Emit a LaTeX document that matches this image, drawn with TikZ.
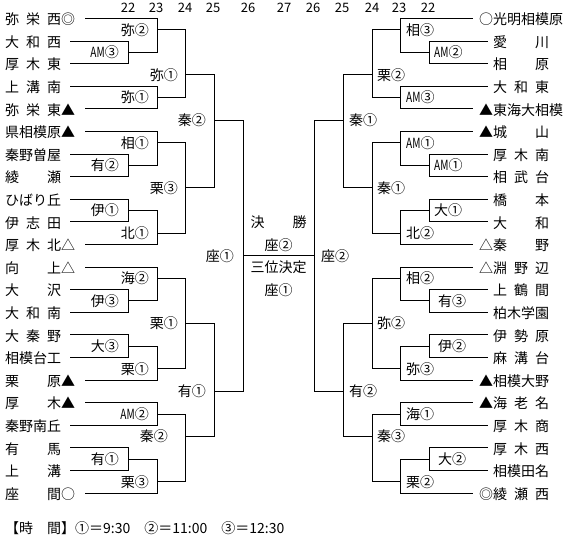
\documentclass[tikz,border=0pt]{standalone}
\usepackage{fontspec}
\setmainfont{Noto Sans CJK JP}
\usepackage{graphicx}
\newcommand\jn[1]{\makebox[56pt][s]{#1}}
\newcommand\AMx{\scalebox{0.72}[1]{AM}}
\newcommand\mt[9]{%
  \draw[ln] (#1,{#2})--(#1,{#3}) (#1,{#4})--(#5,{#4});
  \node[txt,anchor=#7] (#9) at (#6,{#4}) {#8};}
\begin{document}
\begin{tikzpicture}[x=1pt,y=-1pt,
  declare function={rr(\i)=-4.1+22.6*\i; bb(\k)=7.2+22.6*\k;},
  ln/.style={line width=1pt, line cap=rect},
  txt/.style={inner sep=0pt, font=\fontsize{14}{14}\selectfont, text height=11.5pt, text depth=1pt},
  hdr/.style={inner sep=0pt, font=\fontsize{13}{13}\selectfont}]
\fill[white] (0,0) rectangle (568,540);
\useasboundingbox (0,0) rectangle (568,540);

% header
\foreach \x/\n [count=\c] in {128/22,156/23,185/24,213/25,248/26,284/27,313/26,342/25,372/24,399/23,428/22}
  \node[hdr] (h\c) at (\x,8) {\n};

% left team lines
\foreach \i/\a/\b in {1/85/157,2/70/128,3/70/128,4/70/157,5/85/157,6/85/157,7/70/128,8/70/128,9/70/128,10/70/128,11/85/157,
  12/85/157,13/70/128,14/70/128,15/70/128,16/70/128,17/85/157,18/85/157,19/70/157,20/70/128,21/70/128,22/85/157}
  \draw[ln] (\a,{rr(\i)})--(\b,{rr(\i)});
% right team lines
\foreach \i/\a/\b in {1/472/400,2/487/429,3/487/429,4/487/400,5/472/400,6/472/400,7/487/429,8/487/429,9/487/429,10/487/429,11/472/400,
  12/472/400,13/487/429,14/487/429,15/487/429,16/487/429,17/472/400,18/472/400,19/487/400,20/487/429,21/487/429,22/472/400}
  \draw[ln] (\a,{rr(\i)})--(\b,{rr(\i)});

% left team names
\foreach \i/\t in {1/{\jn{弥\hfill{}栄\hfill{}西}◎},2/{\jn{大\hfill{}和\hfill{}西}},3/{\jn{厚\hfill{}木\hfill{}東}},4/{\jn{上\hfill{}溝\hfill{}南}},
  5/{\jn{弥\hfill{}栄\hfill{}東}▲},6/{\jn{県相模原}▲},7/{\jn{秦野曽屋}},8/{\jn{綾\hfill{}瀬}},9/{\jn{ひばり丘}},10/{\jn{伊\hfill{}志\hfill{}田}},
  11/{\jn{厚\hfill{}木\hfill{}北}△},12/{\jn{向\hfill{}上}△},13/{\jn{大\hfill{}沢}},14/{\jn{大\hfill{}和\hfill{}南}},15/{\jn{大\hfill{}秦\hfill{}野}},
  16/{\jn{相模台工}},17/{\jn{栗\hfill{}原}▲},18/{\jn{厚\hfill{}木}▲},19/{\jn{秦野南丘}},20/{\jn{有\hfill{}馬}},21/{\jn{上\hfill{}溝}},22/{\jn{座\hfill{}間}○}}
  \node[txt,anchor=west] (L\i) at (5,{rr(\i)+1}) {\t};
% right team names
\foreach \i/\x/\t in {1/479/{○光明相模原},2/493/{\jn{愛\hfill{}川}},3/493/{\jn{相\hfill{}原}},4/493/{\jn{大\hfill{}和\hfill{}東}},
  5/479/{▲東海大相模},6/479/{▲\jn{城\hfill{}山}},7/493/{\jn{厚\hfill{}木\hfill{}南}},8/493/{\jn{相\hfill{}武\hfill{}台}},9/493/{\jn{橋\hfill{}本}},
  10/493/{\jn{大\hfill{}和}},11/479/{△\jn{秦\hfill{}野}},12/479/{△\jn{淵\hfill{}野\hfill{}辺}},13/493/{\jn{上\hfill{}鶴\hfill{}間}},
  14/493/{\jn{柏木学園}},15/493/{\jn{伊\hfill{}勢\hfill{}原}},16/493/{\jn{麻\hfill{}溝\hfill{}台}},17/479/{▲\jn{相模大野}},
  18/479/{▲\jn{海\hfill{}老\hfill{}名}},19/493/{\jn{厚\hfill{}木\hfill{}商}},20/493/{\jn{厚\hfill{}木\hfill{}西}},21/493/{\jn{相模田名}},
  22/479/{◎\jn{綾\hfill{}瀬\hfill{}西}}}
  \node[txt,anchor=west] (R\i) at (\x,{rr(\i)+1}) {\t};

% ---- left brackets
\mt{128}{rr(2)}{rr(3)}{bb(2)}{157}{119}{east}{\AMx{}③}{la1}
\mt{128}{rr(7)}{rr(8)}{bb(7)}{157}{119}{east}{有②}{la2}
\mt{128}{rr(9)}{rr(10)}{bb(9)}{157}{119}{east}{伊①}{la3}
\mt{128}{rr(13)}{rr(14)}{bb(13)}{157}{119}{east}{伊③}{la4}
\mt{128}{rr(15)}{rr(16)}{bb(15)}{157}{119}{east}{大③}{la5}
\mt{128}{rr(20)}{rr(21)}{bb(20)}{157}{119}{east}{有①}{la6}
\mt{157}{rr(1)}{bb(2)}{bb(1)}{185}{149}{east}{弥②}{lb1}
\mt{157}{rr(4)}{rr(5)}{bb(4)}{185}{149}{east}{弥①}{lb2}
\mt{157}{rr(6)}{bb(7)}{bb(6)}{185}{149}{east}{相①}{lb3}
\mt{157}{bb(9)}{rr(11)}{bb(10)}{185}{149}{east}{北①}{lb4}
\mt{157}{rr(12)}{bb(13)}{bb(12)}{185}{149}{east}{海②}{lb5}
\mt{157}{bb(15)}{rr(17)}{bb(16)}{185}{149}{east}{栗①}{lb6}
\mt{157}{rr(18)}{rr(19)}{bb(18)}{185}{149}{east}{\AMx{}②}{lb7}
\mt{157}{bb(20)}{rr(22)}{bb(21)}{185}{149}{east}{栗③}{lb8}
\mt{185}{bb(1)}{bb(4)}{bb(3)}{214}{178}{east}{弥①}{lc1}
\mt{185}{bb(6)}{bb(10)}{bb(8)}{214}{178}{east}{栗③}{lc2}
\mt{185}{bb(12)}{bb(16)}{bb(14)}{214}{178}{east}{栗①}{lc3}
\mt{185}{bb(18)}{bb(21)}{bb(19)}{214}{168}{east}{秦②}{lc4}
\mt{214}{bb(3)}{bb(8)}{bb(5)}{243}{206}{east}{秦②}{ld1}
\mt{214}{bb(14)}{bb(19)}{bb(17)}{243}{206}{east}{有①}{ld2}
\mt{243}{bb(5)}{bb(17)}{bb(11)}{314}{234}{east}{座①}{le1}

% ---- right brackets
\mt{429}{rr(2)}{rr(3)}{bb(2)}{400}{434}{west}{\AMx{}②}{ra1}
\mt{429}{rr(7)}{rr(8)}{bb(7)}{400}{434}{west}{\AMx{}①}{ra2}
\mt{429}{rr(9)}{rr(10)}{bb(9)}{400}{434}{west}{大①}{ra3}
\mt{429}{rr(13)}{rr(14)}{bb(13)}{400}{438}{west}{有③}{ra4}
\mt{429}{rr(15)}{rr(16)}{bb(15)}{400}{438}{west}{伊②}{ra5}
\mt{429}{rr(20)}{rr(21)}{bb(20)}{400}{438}{west}{大②}{ra6}
\mt{400}{rr(1)}{bb(2)}{bb(1)}{372}{406}{west}{相③}{rb1}
\mt{400}{rr(4)}{rr(5)}{bb(4)}{372}{406}{west}{\AMx{}③}{rb2}
\mt{400}{rr(6)}{bb(7)}{bb(6)}{372}{406}{west}{\AMx{}①}{rb3}
\mt{400}{bb(9)}{rr(11)}{bb(10)}{372}{406}{west}{北②}{rb4}
\mt{400}{rr(12)}{bb(13)}{bb(12)}{372}{406}{west}{相②}{rb5}
\mt{400}{bb(15)}{rr(17)}{bb(16)}{372}{406}{west}{弥③}{rb6}
\mt{400}{rr(18)}{rr(19)}{bb(18)}{372}{406}{west}{海①}{rb7}
\mt{400}{bb(20)}{rr(22)}{bb(21)}{372}{406}{west}{栗②}{rb8}
\mt{372}{bb(1)}{bb(4)}{bb(3)}{343}{377}{west}{栗②}{rc1}
\mt{372}{bb(6)}{bb(10)}{bb(8)}{343}{377}{west}{秦①}{rc2}
\mt{372}{bb(12)}{bb(16)}{bb(14)}{343}{377}{west}{弥②}{rc3}
\mt{372}{bb(18)}{bb(21)}{bb(19)}{343}{377}{west}{秦③}{rc4}
\mt{343}{bb(3)}{bb(8)}{bb(5)}{314}{349}{west}{秦①}{rd1}
\mt{343}{bb(14)}{bb(19)}{bb(17)}{314}{349}{west}{有②}{rd2}
\mt{314}{bb(5)}{bb(17)}{bb(11)}{314}{321}{west}{座②}{re1}

% centre
\node[txt] (fin) at (278.5,222) {\makebox[56pt][s]{決\hfill{}勝}};
\node[txt] (finw) at (278.5,245) {座②};
\node[txt] (thd) at (278.5,267) {三位決定};
\node[txt] (thdw) at (278.5,290) {座①};

% footer
\node[txt,anchor=west] (foot) at (5,528) {【時　間】①＝9:30　②＝11:00　③＝12:30};
\end{tikzpicture}
\end{document}
